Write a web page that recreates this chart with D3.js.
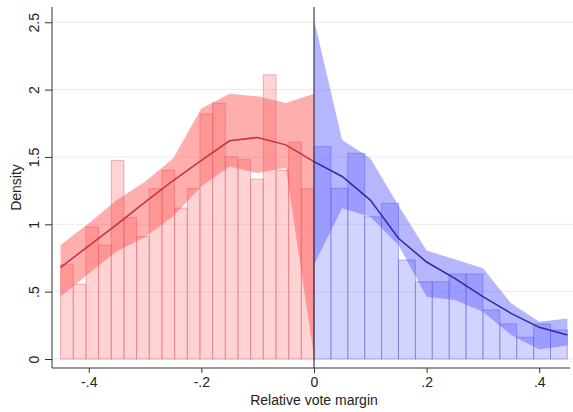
<!DOCTYPE html>
<html>
<head>
<meta charset="utf-8">
<script src="https://cdn.jsdelivr.net/npm/d3@7"></script>
<style>
  html, body { margin: 0; padding: 0; background: #fff; }
  svg { display: block; font-family: "Liberation Sans", Arial, sans-serif; }
</style>
</head>
<body>
<svg id="chart" width="573" height="412"></svg>
<script>
// Histogram bins below the threshold (width .0225, starting at -.45)
const leftBinStart = -0.45;
const leftBinWidth = 0.0225;
const leftDensity = [0.70, 0.555, 0.98, 0.845, 1.475, 1.05, 0.91, 1.265, 1.40, 1.12,
                     1.265, 1.82, 1.90, 1.50, 1.48, 1.335, 2.11, 1.40, 1.61, 1.265];

// Histogram bins above the threshold (width .03, starting at 0)
const rightBinStart = 0;
const rightBinWidth = 0.03;
const rightDensity = [1.576, 1.267, 1.527, 1.056, 1.156, 0.735, 0.574, 0.574,
                      0.631, 0.631, 0.364, 0.26, 0.161, 0.26, 0.215];

// Local polynomial density fit with 95% CI, left of cutoff
const leftGrid  = [-0.45, -0.40, -0.35, -0.30, -0.25, -0.20, -0.15, -0.10, -0.05, 0];
const leftFit   = [0.68, 0.84, 1.00, 1.165, 1.325, 1.475, 1.62, 1.645, 1.59, 1.465];
const leftLower = [0.463, 0.635, 0.80, 0.905, 1.06, 1.28, 1.43, 1.38, 1.42, 0.02];
const leftUpper = [0.846, 1.007, 1.18, 1.316, 1.49, 1.86, 1.97, 1.95, 1.90, 1.97];

// Local polynomial density fit with 95% CI, right of cutoff
const rightGrid  = [0, 0.05, 0.10, 0.15, 0.20, 0.25, 0.30, 0.35, 0.40, 0.45];
const rightFit   = [1.465, 1.355, 1.18, 0.896, 0.72, 0.599, 0.463, 0.339, 0.235, 0.178];
const rightLower = [0.70, 1.119, 1.056, 0.846, 0.463, 0.438, 0.351, 0.178, 0.07, 0.10];
const rightUpper = [2.52, 1.626, 1.49, 1.14, 0.805, 0.74, 0.673, 0.413, 0.277, 0.30];

const yTicks = [0, 0.5, 1, 1.5, 2, 2.5];
const yTickLabels = ["0", ".5", "1", "1.5", "2", "2.5"];
const xTicks = [-0.4, -0.2, 0, 0.2, 0.4];
const xTickLabels = ["-.4", "-.2", "0", ".2", ".4"];

const svg = d3.select("#chart");
const axisX = 52, axisY = 368, plotTop = 7, plotRight = 573;

const x = d3.scaleLinear().domain([-0.45, 0.45]).range([60.6, 567.4]);
const y = d3.scaleLinear().domain([0, 2.5]).range([359, 22.25]);

// horizontal grid
svg.append("g").selectAll("line").data(yTicks).join("line")
  .attr("x1", axisX).attr("x2", plotRight)
  .attr("y1", d => y(d)).attr("y2", d => y(d))
  .attr("stroke", "#ebebeb").attr("stroke-width", 1);

function bars(data, start, width, fill, stroke) {
  svg.append("g").selectAll("rect").data(data).join("rect")
    .attr("x", (d, i) => x(start + i * width))
    .attr("width", (d, i) => x(start + (i + 1) * width) - x(start + i * width))
    .attr("y", d => y(d))
    .attr("height", d => y(0) - y(d))
    .attr("fill", fill)
    .attr("stroke", stroke)
    .attr("stroke-width", 1);
}

function band(grid, lo, hi, fill) {
  const area = d3.area()
    .x((d, i) => x(grid[i]))
    .y0((d, i) => y(lo[i]))
    .y1((d, i) => y(hi[i]));
  svg.append("path").datum(grid).attr("d", area).attr("fill", fill);
}

function fitLine(grid, vals, color) {
  const line = d3.line().x((d, i) => x(grid[i])).y(d => y(d));
  svg.append("path").datum(vals).attr("d", line)
    .attr("fill", "none").attr("stroke", color).attr("stroke-width", 1.5);
}

bars(leftDensity, leftBinStart, leftBinWidth, "rgba(255,110,110,0.3)", "rgba(215,95,105,0.45)");
bars(rightDensity, rightBinStart, rightBinWidth, "rgba(110,110,255,0.3)", "rgba(95,95,215,0.45)");

band(leftGrid, leftLower, leftUpper, "rgba(255,75,75,0.45)");
band(rightGrid, rightLower, rightUpper, "rgba(80,80,255,0.42)");

fitLine(leftGrid, leftFit, "#c4323c");
fitLine(rightGrid, rightFit, "#2b2ba3");

// cutoff line
svg.append("line")
  .attr("x1", x(0)).attr("x2", x(0))
  .attr("y1", plotTop).attr("y2", axisY)
  .attr("stroke", "#1a1a2e").attr("stroke-width", 1);

// y axis
const yAxis = svg.append("g").attr("transform", `translate(${axisX},0)`)
  .call(d3.axisLeft(y).tickValues(yTicks).tickFormat((d, i) => yTickLabels[i]).tickSize(7).tickPadding(0));
yAxis.select(".domain").remove();
yAxis.selectAll(".tick line").attr("stroke", "#333");
yAxis.selectAll(".tick text")
  .attr("font-size", 14).attr("fill", "#222")
  .attr("text-anchor", "middle")
  .attr("transform", "rotate(-90)")
  .attr("x", 0).attr("y", -13).attr("dy", "0");
yAxis.selectAll(".tick").each(function () {
  d3.select(this).select("text").attr("transform", "translate(-13,0) rotate(-90)").attr("y", 0).attr("dy", "0");
});
svg.append("line").attr("x1", axisX).attr("x2", axisX).attr("y1", plotTop).attr("y2", axisY)
  .attr("stroke", "#333").attr("stroke-width", 1);

// x axis
const xAxis = svg.append("g").attr("transform", `translate(0,${axisY})`)
  .call(d3.axisBottom(x).tickValues(xTicks).tickFormat((d, i) => xTickLabels[i]).tickSize(5).tickPadding(4));
xAxis.select(".domain").remove();
xAxis.selectAll(".tick line").attr("stroke", "#333");
xAxis.selectAll(".tick text").attr("font-size", 14).attr("fill", "#222");
svg.append("line").attr("x1", axisX).attr("x2", 570).attr("y1", axisY).attr("y2", axisY)
  .attr("stroke", "#333").attr("stroke-width", 1);

// axis titles
svg.append("text").attr("x", x(0)).attr("y", 405)
  .attr("text-anchor", "middle").attr("font-size", 14).attr("fill", "#222")
  .text("Relative vote margin");
svg.append("text").attr("transform", `translate(21,${(plotTop + axisY) / 2}) rotate(-90)`)
  .attr("text-anchor", "middle").attr("font-size", 14).attr("fill", "#222")
  .text("Density");
</script>
</body>
</html>
